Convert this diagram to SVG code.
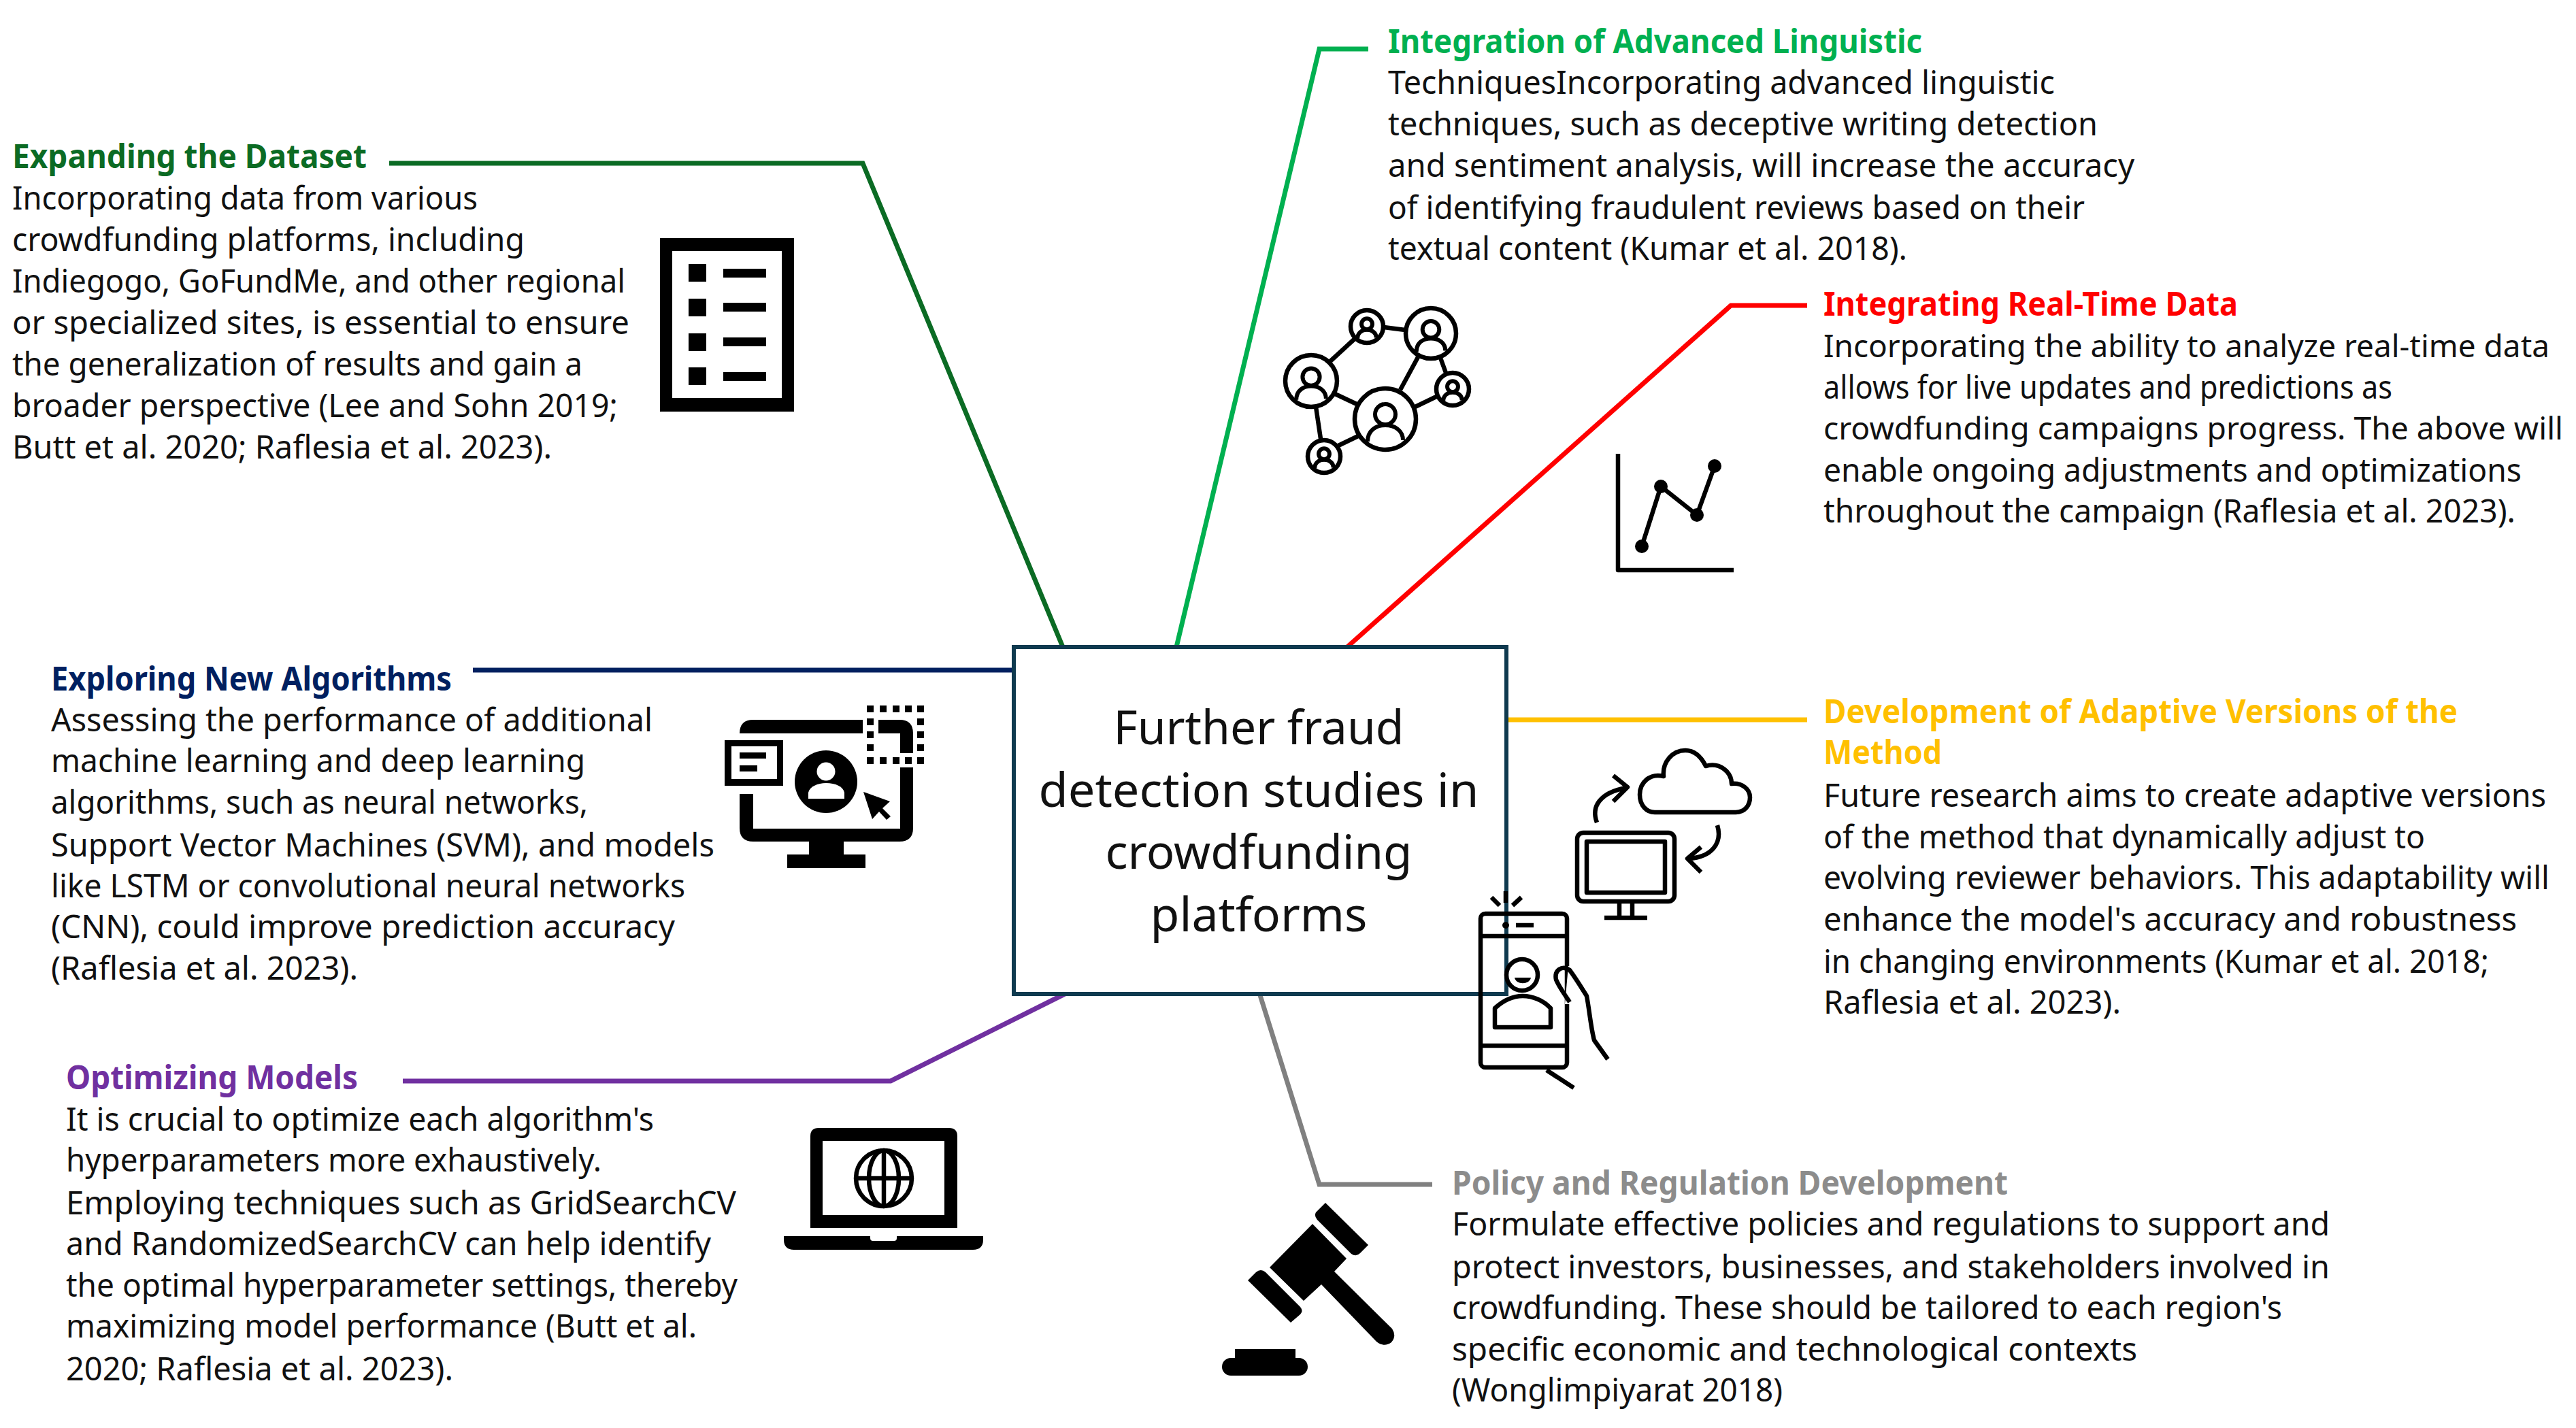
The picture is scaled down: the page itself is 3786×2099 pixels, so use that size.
<svg xmlns="http://www.w3.org/2000/svg" xmlns:xlink="http://www.w3.org/1999/xlink" width="3786" height="2099" viewBox="0 0 3786 2099">
<style>
text{font-family:"Noto Sans","Open Sans","Liberation Sans",sans-serif;font-size:48px;fill:#111}
.t{font-weight:700}
.c{font-size:69px;text-anchor:middle}
.n{font-size:46px}
.l{fill:none;stroke-width:7;stroke-linejoin:miter}
.ic{fill:none;stroke:#000;stroke-width:6.5;stroke-linecap:butt;stroke-linejoin:round}
.f{fill:#000}
.w{fill:#fff}
</style>
<defs>
<g id="person"><circle cx="0" cy="-7" r="15" fill="none" stroke="#000" stroke-width="6" vector-effect="non-scaling-stroke"/><path d="M-26,33 C-26,17 -14,9 0,9 C14,9 26,17 26,31" fill="none" stroke="#000" stroke-width="6" vector-effect="non-scaling-stroke"/></g>
</defs>
<rect width="3786" height="2099" fill="#fff"/>

<g id="connectors">
<path class="l" stroke="#0b6b24" d="M572,240H1268L1562,951"/>
<path class="l" stroke="#00b050" d="M1729,951L1939,72H2011"/>
<path class="l" stroke="#ff0000" d="M1980,951L2544,449H2656"/>
<path class="l" stroke="#002060" d="M695,985H1490"/>
<path class="l" stroke="#ffc000" d="M2214,1058H2656"/>
<path class="l" stroke="#7030a0" d="M592,1589H1309L1565,1461"/>
<path class="l" stroke="#808080" d="M1852,1463L1939,1741H2105"/>
</g>

<g id="center">
<rect x="1490" y="951" width="724" height="510" fill="none" stroke="#0f3a4f" stroke-width="6"/>
<text class="c" x="1850" y="1094" textLength="427" lengthAdjust="spacingAndGlyphs">Further fraud</text>
<text class="c" x="1850" y="1186" textLength="647" lengthAdjust="spacingAndGlyphs">detection studies in</text>
<text class="c" x="1850" y="1277" textLength="451" lengthAdjust="spacingAndGlyphs">crowdfunding</text>
<text class="c" x="1850" y="1369" textLength="319" lengthAdjust="spacingAndGlyphs">platforms</text>
</g>

<g id="expanding">
<text class="t" x="18" y="247" style="fill:#0b6b24" textLength="521" lengthAdjust="spacingAndGlyphs">Expanding the Dataset</text>
<text x="18" y="308" textLength="684" lengthAdjust="spacingAndGlyphs">Incorporating data from various</text>
<text x="18" y="369" textLength="753" lengthAdjust="spacingAndGlyphs">crowdfunding platforms, including</text>
<text x="18" y="430" textLength="901" lengthAdjust="spacingAndGlyphs">Indiegogo, GoFundMe, and other regional</text>
<text x="18" y="491" textLength="907" lengthAdjust="spacingAndGlyphs">or specialized sites, is essential to ensure</text>
<text x="18" y="552" textLength="838" lengthAdjust="spacingAndGlyphs">the generalization of results and gain a</text>
<text x="18" y="613" textLength="890" lengthAdjust="spacingAndGlyphs">broader perspective (Lee and Sohn 2019;</text>
<text x="18" y="674" textLength="793" lengthAdjust="spacingAndGlyphs">Butt et al. 2020; Raflesia et al. 2023).</text>
<path class="f" fill-rule="evenodd" d="M970,350H1167V605H970ZM988,369V585H1149V369Z"/>
<path class="f" d="M1012,388h26v26h-26zM1012,439h26v26h-26zM1012,490h26v26h-26zM1012,540h26v26h-26zM1063,395h63v13h-63zM1063,445h63v13h-63zM1063,496h63v13h-63zM1063,547h63v13h-63z"/>
</g>

<g id="integration">
<text class="t" x="2040" y="78" style="fill:#00b050" textLength="785" lengthAdjust="spacingAndGlyphs">Integration of Advanced Linguistic</text>
<text x="2040" y="138" textLength="980" lengthAdjust="spacingAndGlyphs">TechniquesIncorporating advanced linguistic</text>
<text x="2040" y="199" textLength="1043" lengthAdjust="spacingAndGlyphs">techniques, such as deceptive writing detection</text>
<text x="2040" y="260" textLength="1097" lengthAdjust="spacingAndGlyphs">and sentiment analysis, will increase the accuracy</text>
<text x="2040" y="322" textLength="1024" lengthAdjust="spacingAndGlyphs">of identifying fraudulent reviews based on their</text>
<text x="2040" y="382" textLength="763" lengthAdjust="spacingAndGlyphs">textual content (Kumar et al. 2018).</text>
<g class="ic">
<path d="M2034,481L2065,485M1991,498L1954,532M1960,578L1994,594M2084,525L2058,573M2117,526L2125,548M2080,598L2111,583M1934,598L1941,645M1996,641L1967,655"/>
<circle cx="2009" cy="480" r="24"/><circle cx="2103" cy="490" r="37"/><circle cx="1927" cy="560" r="38"/><circle cx="2036" cy="616" r="45"/><circle cx="2135" cy="572" r="24"/><circle cx="1946" cy="671" r="24"/>
</g>
<use xlink:href="#person" href="#person" transform="translate(2036,616)"/>
<use xlink:href="#person" href="#person" transform="translate(2103,490) scale(.82)"/>
<use xlink:href="#person" href="#person" transform="translate(1927,560) scale(.84)"/>
<use xlink:href="#person" href="#person" transform="translate(2009,480) scale(.53)"/>
<use xlink:href="#person" href="#person" transform="translate(2135,572) scale(.53)"/>
<use xlink:href="#person" href="#person" transform="translate(1946,671) scale(.53)"/>
</g>

<g id="realtime">
<text class="t" x="2680" y="464" style="fill:#ff0000" textLength="609" lengthAdjust="spacingAndGlyphs">Integrating Real-Time Data</text>
<text class="n" x="2680" y="525" textLength="1067" lengthAdjust="spacingAndGlyphs">Incorporating the ability to analyze real-time data</text>
<text x="2680" y="586" textLength="836" lengthAdjust="spacingAndGlyphs">allows for live updates and predictions as</text>
<text class="n" x="2680" y="646" textLength="1087" lengthAdjust="spacingAndGlyphs">crowdfunding campaigns progress. The above will</text>
<text x="2680" y="708" textLength="1026" lengthAdjust="spacingAndGlyphs">enable ongoing adjustments and optimizations</text>
<text x="2680" y="768" textLength="1017" lengthAdjust="spacingAndGlyphs">throughout the campaign (Raflesia et al. 2023).</text>
<path class="ic" d="M2378,667V838H2548"/>
<path class="ic" d="M2413,803L2441,715L2494,757L2520,685"/>
<g class="f"><circle cx="2413" cy="803" r="10"/><circle cx="2441" cy="715" r="10"/><circle cx="2494" cy="757" r="10"/><circle cx="2520" cy="685" r="10"/></g>
</g>

<g id="adaptive">
<text class="t" x="2680" y="1063" style="fill:#ffc000" textLength="932" lengthAdjust="spacingAndGlyphs">Development of Adaptive Versions of the</text>
<text class="t" x="2680" y="1123" style="fill:#ffc000" textLength="174" lengthAdjust="spacingAndGlyphs">Method</text>
<text x="2680" y="1186" textLength="1062" lengthAdjust="spacingAndGlyphs">Future research aims to create adaptive versions</text>
<text x="2680" y="1247" textLength="884" lengthAdjust="spacingAndGlyphs">of the method that dynamically adjust to</text>
<text x="2680" y="1307" textLength="1067" lengthAdjust="spacingAndGlyphs">evolving reviewer behaviors. This adaptability will</text>
<text x="2680" y="1368" textLength="1019" lengthAdjust="spacingAndGlyphs">enhance the model's accuracy and robustness</text>
<text x="2680" y="1430" textLength="978" lengthAdjust="spacingAndGlyphs">in changing environments (Kumar et al. 2018;</text>
<text x="2680" y="1490" textLength="437" lengthAdjust="spacingAndGlyphs">Raflesia et al. 2023).</text>
<g class="ic">
<path d="M2432,1194H2551C2564,1194 2572,1184 2572,1172C2572,1160 2560,1150 2545,1152C2545,1135 2528,1120 2507,1126C2500,1112 2490,1103 2477,1103C2458,1103 2443,1120 2445,1141C2425,1136 2410,1150 2410,1168C2410,1184 2420,1194 2432,1194Z"/>
<path d="M2347,1209C2338,1185 2352,1165 2390,1158M2371,1140L2392,1157L2371,1178"/>
<path d="M2524,1213C2532,1240 2515,1260 2482,1262M2500,1245L2480,1262L2500,1282"/>
<rect x="2318" y="1224" width="143" height="101" rx="9"/>
<rect x="2332" y="1237" width="115" height="75"/>
<path d="M2380,1325V1348M2399,1325V1348M2358,1349H2421"/>
<rect x="2176" y="1343" width="127" height="226" rx="7"/>
<path d="M2176,1376H2303M2176,1537H2303M2228,1360H2254"/>
<path d="M2213,1310V1327M2192,1319L2204,1331M2236,1319L2223,1331"/>
<circle cx="2237" cy="1433" r="23"/>
<path d="M2197,1510V1482C2210,1470 2225,1464 2238,1464C2252,1464 2268,1470 2279,1482V1510Z"/>
<path fill="#fff" stroke="none" d="M2305,1420H2312L2312,1476H2300Z"/>
<path d="M2363,1557L2343,1529C2338,1510 2336,1485 2332,1464C2322,1448 2316,1438 2307,1426C2296,1418 2284,1426 2287,1440C2292,1452 2300,1462 2307,1473"/>
<path d="M2273,1573L2313,1599"/>
</g>
<circle class="f" cx="2213" cy="1360" r="5"/>
<path class="f" d="M2226,1437H2250C2248,1448 2228,1448 2226,1437Z"/>
</g>

<g id="policy">
<text class="t" x="2134" y="1756" style="fill:#8c8c8c" textLength="817" lengthAdjust="spacingAndGlyphs">Policy and Regulation Development</text>
<text x="2134" y="1816" textLength="1290" lengthAdjust="spacingAndGlyphs">Formulate effective policies and regulations to support and</text>
<text x="2134" y="1879" textLength="1290" lengthAdjust="spacingAndGlyphs">protect investors, businesses, and stakeholders involved in</text>
<text x="2134" y="1939" textLength="1220" lengthAdjust="spacingAndGlyphs">crowdfunding. These should be tailored to each region's</text>
<text x="2134" y="2000" textLength="1007" lengthAdjust="spacingAndGlyphs">specific economic and technological contexts</text>
<text x="2134" y="2060" textLength="486" lengthAdjust="spacingAndGlyphs">(Wonglimpiyarat 2018)</text>
<path class="f" d="M1948,1768L2011,1830L1999,1842Q1993,1848 1986,1843L1936,1793Q1931,1787 1934,1782Z"/>
<path class="f" d="M1929,1799L1979,1850L1961,1869L2046,1953Q2053,1964 2045,1973Q2034,1981 2023,1972L1942,1888L1916,1912L1866,1863Z"/>
<path class="f" d="M1834,1882L1846,1870Q1853,1864 1860,1870L1911,1921Q1916,1927 1911,1932L1897,1944Z"/>
<path class="f" d="M1815,1983H1904V1996H1909A13,13 0 0 1 1909,2022H1809A13,13 0 0 1 1809,1996H1815Z"/>
</g>

<g id="exploring">
<text class="t" x="75" y="1015" style="fill:#002060" textLength="589" lengthAdjust="spacingAndGlyphs">Exploring New Algorithms</text>
<text x="75" y="1075" textLength="884" lengthAdjust="spacingAndGlyphs">Assessing the performance of additional</text>
<text x="75" y="1135" textLength="785" lengthAdjust="spacingAndGlyphs">machine learning and deep learning</text>
<text x="75" y="1196" textLength="789" lengthAdjust="spacingAndGlyphs">algorithms, such as neural networks,</text>
<text x="75" y="1259" textLength="975" lengthAdjust="spacingAndGlyphs">Support Vector Machines (SVM), and models</text>
<text x="75" y="1319" textLength="932" lengthAdjust="spacingAndGlyphs">like LSTM or convolutional neural networks</text>
<text x="75" y="1379" textLength="917" lengthAdjust="spacingAndGlyphs">(CNN), could improve prediction accuracy</text>
<text x="75" y="1440" textLength="451" lengthAdjust="spacingAndGlyphs">(Raflesia et al. 2023).</text>
<path class="f" d="M1087,1078Q1087,1058 1107,1058H1268V1078ZM1291,1058H1322Q1342,1058 1342,1078V1107H1323V1078H1291ZM1087,1167H1107V1218H1323V1128H1342V1217Q1342,1237 1322,1237H1240V1256H1272V1276H1157V1256H1189V1237H1107Q1087,1237 1087,1217Z"/>
<path class="f" fill-rule="evenodd" d="M1065,1088H1151V1155H1065ZM1075,1097V1145H1142V1097Z"/>
<path class="f" d="M1087,1106h39v9h-39zM1087,1125h26v9h-26z"/>
<circle class="f" cx="1214" cy="1149" r="46"/>
<circle class="w" cx="1214" cy="1134" r="13.5"/>
<path class="w" d="M1188,1174V1165C1190,1156 1202,1151 1214,1151C1228,1151 1239,1156 1241,1165V1174Z"/>
<path class="f" d="M1269,1164L1308,1178L1297,1188L1309,1200L1303,1205L1292,1193L1282,1204Z"/>
<path class="f" d="M1274,1037h10v10h-10zM1293,1037h10v10h-10zM1312,1037h10v10h-10zM1330,1037h10v10h-10zM1348,1037h10v10h-10zM1274,1056h10v10h-10zM1348,1056h10v10h-10zM1274,1075h10v10h-10zM1348,1075h10v10h-10zM1274,1094h10v10h-10zM1348,1094h10v10h-10zM1274,1113h10v10h-10zM1293,1113h10v10h-10zM1312,1113h10v10h-10zM1330,1113h10v10h-10zM1348,1113h10v10h-10z"/>
</g>

<g id="optimizing">
<text class="t" x="97" y="1601" style="fill:#7030a0" textLength="429" lengthAdjust="spacingAndGlyphs">Optimizing Models</text>
<text x="97" y="1662" textLength="864" lengthAdjust="spacingAndGlyphs">It is crucial to optimize each algorithm's</text>
<text x="97" y="1722" textLength="787" lengthAdjust="spacingAndGlyphs">hyperparameters more exhaustively.</text>
<text x="97" y="1785" textLength="985" lengthAdjust="spacingAndGlyphs">Employing techniques such as GridSearchCV</text>
<text x="97" y="1845" textLength="948" lengthAdjust="spacingAndGlyphs">and RandomizedSearchCV can help identify</text>
<text x="97" y="1906" textLength="987" lengthAdjust="spacingAndGlyphs">the optimal hyperparameter settings, thereby</text>
<text x="97" y="1966" textLength="927" lengthAdjust="spacingAndGlyphs">maximizing model performance (Butt et al.</text>
<text x="97" y="2029" textLength="569" lengthAdjust="spacingAndGlyphs">2020; Raflesia et al. 2023).</text>
<path class="f" fill-rule="evenodd" d="M1203,1658H1395Q1407,1658 1407,1670V1805H1191V1670Q1191,1658 1203,1658ZM1209,1677V1786H1388V1677Z"/>
<g fill="none" stroke="#000" stroke-width="6.5"><circle cx="1299" cy="1732" r="41"/><ellipse cx="1299" cy="1732" rx="22" ry="41"/><path d="M1299,1691V1773M1258,1732H1340"/></g>
<path class="f" d="M1152,1817H1279V1820Q1279,1824 1283,1824H1314Q1318,1824 1318,1820V1817H1445V1822Q1445,1837 1430,1837H1167Q1152,1837 1152,1822Z"/>
</g>
</svg>
